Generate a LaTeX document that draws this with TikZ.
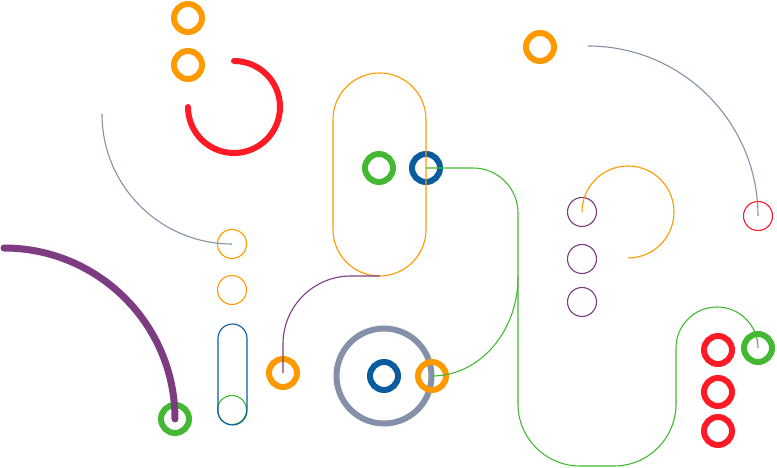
\documentclass[tikz,border=0pt]{standalone}
\definecolor{cor}{HTML}{FF9900}
\definecolor{cred}{HTML}{FF1A26}
\definecolor{cgreen}{HTML}{44B833}
\definecolor{cblue}{HTML}{0B5C9E}
\definecolor{cpur}{HTML}{7D3C82}
\definecolor{cgray}{HTML}{8491A9}
\begin{document}
\begin{tikzpicture}[x=1pt,y=1pt,
  ring/.style={circle,draw,line width=6pt,minimum size=28pt,inner sep=0pt,outer sep=0pt},
  dot/.style={circle,draw,line width=1.1pt,minimum size=29pt,inner sep=0pt,outer sep=0pt},
  pill/.style={rectangle,draw,line width=1.1pt,inner sep=0pt,outer sep=0pt},
  link/.style={line width=1.1pt}]
\useasboundingbox (0,0) rectangle (777,468);
% big gray ring
\node[ring,draw=cgray,minimum size=95pt] (gr) at (384,92) {};
% thick rings
\node[ring,draw=cor] (o1) at (188,450) {};
\node[ring,draw=cor] (o2) at (188,403) {};
\node[ring,draw=cor] (o3) at (540,421) {};
\node[ring,draw=cor] (o4) at (283,95) {};
\node[ring,draw=cor] (o5) at (432,92) {};
\node[ring,draw=cgreen] (g1) at (175,49) {};
\node[ring,draw=cgreen] (g2) at (379,300) {};
\node[ring,draw=cblue] (b1) at (426,300) {};
\node[ring,draw=cblue] (b2) at (384,92) {};
\node[ring,draw=cred] (r1) at (718,118) {};
\node[ring,draw=cred] (r2) at (718,76) {};
\node[ring,draw=cred] (r3) at (718,37) {};
\node[ring,draw=cgreen] (g3) at (758,120) {};
% thin circles
\node[dot,draw=cor] (s1) at (232,224) {};
\node[dot,draw=cor] (s2) at (232,178) {};
\node[dot,draw=cgreen] (s3) at (232,58) {};
\node[dot,draw=cpur] (p1) at (582,256) {};
\node[dot,draw=cpur] (p2) at (582,209) {};
\node[dot,draw=cpur] (p3) at (582,166) {};
\node[dot,draw=cred] (s4) at (758,252) {};
% pills
\node[pill,draw=cblue,minimum width=29pt,minimum height=101pt,rounded corners=14.5pt] (bp) at (232.5,93.5) {};
\node[pill,draw=cor,minimum width=93pt,minimum height=203pt,rounded corners=46.5pt] (op) at (379.5,293.5) {};
% connectors
\coordinate (ga) at (102,354);
\draw[link,cgray] (ga) arc[start angle=180,end angle=270,radius=130];
\coordinate (gb) at (588,422);
\draw[link,cgray] (gb) arc[start angle=90,end angle=0,radius=170];
\draw[link,cor] (p1.center) arc[start angle=180,end angle=-90,radius=46];
\coordinate (pa) at (4,220);
\draw[cpur,line width=7pt,line cap=round] (pa) arc[start angle=90,end angle=0,radius=171];
\coordinate (ra) at (234,407);
\draw[cred,line width=6pt,line cap=round] (ra) arc[start angle=90,end angle=-180,radius=46];
\draw[link,cpur] (o4.center) -- (283,124) arc[start angle=180,end angle=90,radius=68] -- (op.south);
\draw[link,cgreen] (b1.center) -- (473,300) arc[start angle=90,end angle=0,radius=45]
  -- (518,64) arc[start angle=180,end angle=270,radius=62]
  -- (614,2) arc[start angle=270,end angle=360,radius=62]
  -- (676,120) arc[start angle=180,end angle=0,radius=41];
\draw[link,cgreen] (o5.center) .. controls (479.5,92) and (518,136.3) .. (518,191);
\end{tikzpicture}
\end{document}
